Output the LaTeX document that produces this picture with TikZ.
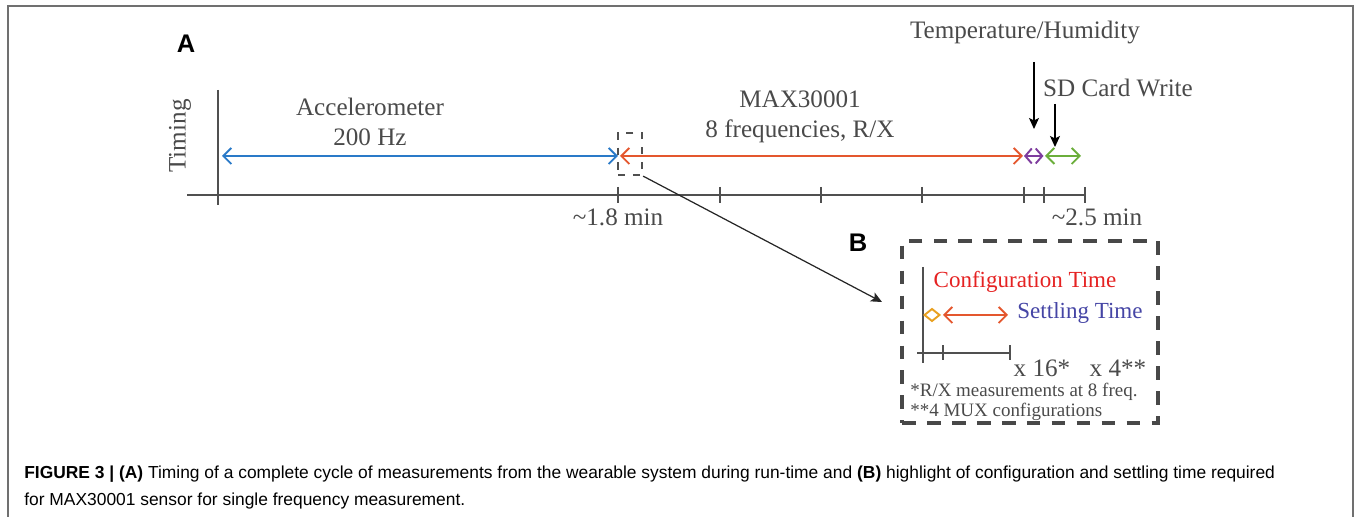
\documentclass[tikz,border=0pt]{standalone}
\usepackage{fontspec}
\setmainfont{Liberation Serif}
\setsansfont{Liberation Sans}
\usepackage{tikz}
\usetikzlibrary{arrows.meta}

\definecolor{accblue}{HTML}{2A7AC8}
\definecolor{maxred}{HTML}{E4572E}
\definecolor{thpurple}{HTML}{7E3C9E}
\definecolor{sdgreen}{HTML}{6BAE3B}
\definecolor{cfgorange}{HTML}{E8A020}
\definecolor{cfgred}{HTML}{E52222}
\definecolor{settleblue}{HTML}{4545A5}
\definecolor{txtgray}{HTML}{4A4A4A}
\definecolor{axgray}{HTML}{505050}
\definecolor{framegray}{HTML}{707070}

\tikzset{
  lbl/.style={font=\fontsize{14.3}{17}\selectfont, text=txtgray, align=center, inner sep=0pt},
  note/.style={font=\fontsize{10.8}{11.4}\selectfont, text=txtgray, align=left, inner sep=0pt},
  panel/.style={font=\sffamily\bfseries\fontsize{14.5}{16}\selectfont, inner sep=0pt},
  axis/.style={line width=1.1pt, color=axgray},
  seg/.style={line width=1.1pt, {Straight Barb[length=1.6mm,width=3.2mm]}-{Straight Barb[length=1.6mm,width=3.2mm]}},
  pointer/.style={line width=0.7pt, -{Stealth[length=2.2mm,width=2mm,inset=0.5mm]}},
  zoombox/.style={draw=axgray, line width=1.3pt, dash pattern=on 4pt off 4.5pt, minimum width=0.48cm, minimum height=0.84cm, inner sep=0pt},
  bigbox/.style={draw=axgray!90!black, line width=1.9pt, dash pattern=on 7.8pt off 6.4pt, minimum width=5.12cm, minimum height=3.64cm, inner sep=0pt}
}

\begin{document}
\begin{tikzpicture}

\useasboundingbox (0,0) rectangle (27.12,10.34);

% frame
\draw [color=framegray, line width=0.8pt] (0.16,0) -- (0.16,10.22) -- (27.06,10.22) -- (27.06,0);

\node [panel] (pA) at (3.72,9.46) {A};
\node [lbl, rotate=90] (timing) at (3.6,7.62) {Timing};

% time axis
\draw [axis] (4.36,8.54) -- (4.36,6.24);
\draw [axis] (3.74,6.44) -- (21.7,6.44);

\draw [axis] (12.36,6.6) -- (12.36,6.28);
\draw [axis] (14.40,6.6) -- (14.40,6.28);
\draw [axis] (16.42,6.6) -- (16.42,6.28);
\draw [axis] (18.44,6.6) -- (18.44,6.28);
\draw [axis] (20.48,6.6) -- (20.48,6.28);
\draw [axis] (20.88,6.6) -- (20.88,6.28);
\draw [axis] (21.70,6.6) -- (21.70,6.28);

\node [lbl] (t18) at (12.36,6.0) {\textasciitilde1.8 min};
\node [lbl] (t25) at (21.94,6.0) {\textasciitilde2.5 min};

% measurement phases
\coordinate (accL) at (4.44,7.22);
\coordinate (accR) at (12.36,7.22);
\coordinate (maxL) at (12.40,7.22);
\coordinate (maxR) at (20.46,7.22);
\coordinate (thL) at (20.48,7.22);
\coordinate (thR) at (20.87,7.22);
\coordinate (sdL) at (20.90,7.22);
\coordinate (sdR) at (21.62,7.22);

\draw [seg, color=accblue] (accL) -- (accR);
\draw [seg, color=maxred] (maxL) -- (maxR);
\draw [seg, color=thpurple, {Straight Barb[length=1.3mm,width=3mm]}-{Straight Barb[length=1.3mm,width=3mm]}] (thL) -- (thR);
\draw [seg, color=sdgreen] (sdL) -- (sdR);

\node [lbl] (acc) at (7.4,7.91) {Accelerometer\\200 Hz};
\node [lbl] (max) at (16.0,8.0) {MAX30001\\8 frequencies, R/X};
\node [lbl] (th) at (20.5,9.68) {Temperature/Humidity};
\node [lbl] (sd) at (22.36,8.58) {SD Card Write};

\coordinate (thtop) at (20.68,9.1);
\coordinate (thtip) at (20.68,7.76);
\coordinate (sdtop) at (21.1,8.26);
\coordinate (sdtip) at (21.1,7.40);
\draw [pointer] (thtop) -- (thtip);
\draw [pointer] (sdtop) -- (sdtip);

% zoom into one frequency
\node [zoombox] (zoom) at (12.6,7.26) {};
\node [bigbox] (boxB) at (20.6,3.70) {};
\node [panel] (pB) at (17.16,5.48) {B};
\coordinate (zoomtip) at (17.64,4.30);
\draw [pointer, color=black!85] (zoom.south east) -- (zoomtip);

\draw [axis] (18.46,5.0) -- (18.46,3.08);
\draw [axis] (18.34,3.28) -- (20.2,3.28);
\draw [axis] (18.86,3.43) -- (18.86,3.13);
\draw [axis] (20.2,3.43) -- (20.2,3.13);

\draw [color=cfgorange, line width=1.1pt] (18.49,4.04) -- (18.64,4.16) -- (18.79,4.04) -- (18.64,3.92) -- cycle;
\coordinate (setL) at (18.86,4.04);
\coordinate (setR) at (20.16,4.04);
\draw [seg, color=maxred] (setL) -- (setR);

\node [lbl, font=\fontsize{13.1}{15}\selectfont, text=cfgred] (cfg) at (20.5,4.7) {Configuration Time};
\node [lbl, font=\fontsize{13.1}{15}\selectfont, text=settleblue] (settle) at (21.6,4.08) {Settling Time};
\node [lbl] (x16) at (20.84,2.98) {x 16*};
\node [lbl] (x4) at (22.36,2.98) {x 4**};
\node [note, anchor=west] (fn1) at (18.2,2.5) {*R/X measurements at 8 freq.};
\node [note, anchor=west] (fn2) at (18.2,2.1) {**4 MUX configurations};

% caption
\node [anchor=north west, align=left, inner sep=0pt, font=\sffamily\fontsize{9.9}{15.3}\selectfont] (cap) at (0.48,1.02)
  {\textbf{FIGURE 3 | (A)} Timing of a complete cycle of measurements from the wearable system during run-time and \textbf{(B)} highlight of configuration and settling time required\\
   for MAX30001 sensor for single frequency measurement.};

\end{tikzpicture}
\end{document}
